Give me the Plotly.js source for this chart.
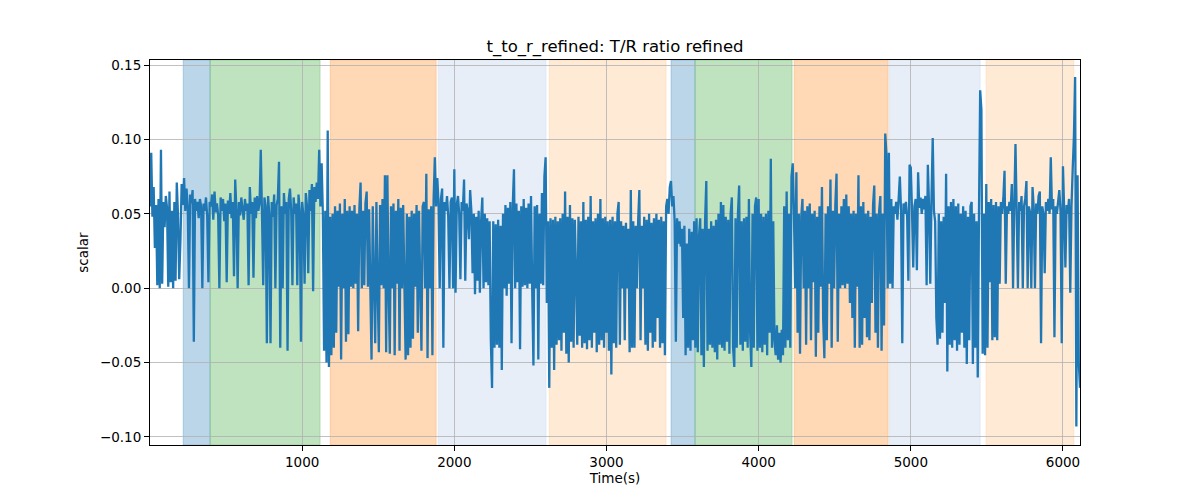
<!DOCTYPE html>
<html>
<head>
<meta charset="utf-8">
<script src="https://cdn.plot.ly/plotly-3.0.1.min.js"></script>
<style>html,body{margin:0;padding:0;background:#fff}#chart{width:1200px;height:500px}</style>
</head>
<body>
<div id="chart"></div>
<script>
// sampling of the series (seconds)
const sampleStart = 0;
const sampleStep = 8;

// T/R ratio refined, one value every 8 s
const ratio = [
 .055,.091,.048,.068,.027,.056,.002,.06,.0,.093,.003,.058,.041,.062,.054,.001,.065,.004,.052,.0,
 .058,.005,.071,.049,.006,.032,.07,.056,.074,.052,.067,.055,.0,.063,.057,.066,-.036,.06,.052,.058,
 .047,.06,.055,.0,.057,.052,.061,.048,.004,.058,.055,.063,.046,.065,.051,.057,.049,.0,.061,.052,
 .06,.045,.057,.004,.059,.05,.064,.047,.058,.008,.073,.052,.0,.058,.049,.061,.053,.046,.06,.052,
 .057,.002,.068,.05,.058,.007,.061,.047,.062,.052,.057,.093,.05,.002,.061,.055,-.037,.062,.05,-.037,
 .058,.048,.063,.0,.056,.06,.085,-.04,.055,.0,.064,.05,.058,-.042,.06,.067,.052,.002,.061,.05,
 .057,.002,.063,.052,-.036,.058,.049,.003,.064,.055,.01,.066,.052,.07,-.002,.068,.058,.071,.06,.093,
 .055,.084,.05,-.042,.052,-.05,.106,-.053,.048,-.045,.05,-.04,.055,-.03,.052,.001,.057,-.048,.05,.0,
 .06,-.036,.052,-.031,.055,.001,.052,.0,.056,.003,.05,-.029,.054,.071,.0,.052,.002,.057,.065,.001,
 .053,.0,-.048,.055,.004,-.037,.058,.0,-.043,.056,.002,.06,.0,.076,-.043,.076,.001,-.044,.055,.0,
 .057,-.045,.052,.003,.06,-.042,.054,.0,.056,.002,-.048,.05,-.045,.048,-.04,.052,-.034,.05,.001,.056,
 -.03,.052,.002,-.042,.055,.058,.0,.077,-.047,.053,.0,.055,-.045,.06,.088,.055,.074,.058,.0,.06,
 .067,-.04,.058,.052,.062,.048,.0,.058,.061,.0,.08,-.003,.056,.062,.05,.006,.058,.052,.073,.005,
 .057,.052,.033,.066,.052,.01,.05,-.004,.048,.005,.052,-.003,.045,.061,.0,.05,.004,.047,.002,.045,
 -.035,-.067,.045,-.04,.043,-.038,.046,-.04,.042,-.055,.05,.0,.056,-.005,.054,.003,.058,-.037,.055,.08,
 .0,.057,.004,.052,-.041,.055,.001,.06,.002,.054,.0,.057,.003,.062,-.002,-.052,.055,.0,.056,-.048,
 .05,.003,.064,.002,.075,.088,-.01,.045,-.067,.047,-.04,.046,-.055,.048,-.038,.045,-.035,.047,-.042,.05,
 -.03,.065,-.044,.048,-.05,.056,-.036,.047,-.04,.046,.01,-.038,.048,-.032,.045,-.04,.058,-.037,.046,-.041,
 .048,-.035,.062,-.04,.045,-.03,.047,-.043,.05,-.038,.06,-.035,.047,-.04,.048,-.03,.045,-.042,.046,-.058,
 .048,-.037,.045,-.04,.05,.058,-.038,.045,.0,.042,-.035,.044,.0,.04,-.043,.066,-.04,.045,-.04,.042,
 .0,.045,.066,-.035,.042,.0,.048,-.038,.046,-.042,.05,-.03,.044,-.04,.047,-.036,.05,-.02,.046,-.04,
 .048,-.037,.045,-.045,.055,.06,.05,.068,.072,.055,.062,.045,-.036,.047,.03,.045,.028,.04,-.02,.042,
 -.045,.03,-.04,.04,-.042,.038,-.035,.045,-.04,.047,-.043,.035,.047,-.045,.04,-.053,.045,.072,-.042,.04,
 -.038,.045,-.04,.042,-.043,.046,-.048,.05,-.038,.058,-.04,.056,-.042,.048,-.036,.046,-.044,.05,.061,-.04,
 -.053,.047,-.04,.05,.069,-.038,.045,-.042,.047,-.036,.048,-.04,.06,-.03,-.053,.05,-.04,.055,.061,-.042,
 .06,-.04,.05,-.043,.048,-.038,.05,-.045,.052,-.03,.087,-.04,.045,-.035,-.045,-.025,-.048,-.03,-.05,-.028,
 -.045,.055,-.04,.065,-.035,.05,-.04,.075,.084,.05,.0,.078,-.03,.05,-.044,.048,.06,.0,.052,-.038,
 .055,.0,.057,-.035,.05,.004,.052,-.046,.048,-.03,.055,.001,.068,-.02,-.047,.05,-.035,.055,.003,.073,
 -.04,.052,.0,.056,.077,-.036,.05,.0,.055,.002,.06,.0,.063,.003,.055,-.01,.05,-.02,.052,-.04,
 .05,.001,.076,-.04,.055,-.038,.058,-.02,.05,-.033,.052,-.035,.048,-.01,.056,.069,-.03,.05,-.04,.052,
 .062,-.042,.05,-.025,.104,.09,.0,.091,.003,.06,.0,.055,.05,.058,.046,.06,.075,.052,-.037,.057,
 .05,.058,.048,.005,.083,.081,.052,.014,.055,.06,.012,.078,.054,.061,.05,.06,.053,.062,.002,.083,
 .055,.003,.06,.101,.052,.045,-.02,-.038,.05,-.034,.045,-.03,.048,-.01,.077,-.056,.055,-.038,.058,-.04,
 .06,-.035,.055,-.042,.057,-.038,.05,-.03,.055,-.04,.052,-.051,.048,-.035,.055,.058,-.051,.05,-.04,.045,
 -.06,.05,.133,.12,-.044,.05,-.045,.07,-.04,.058,.004,.06,-.035,.056,-.033,.058,-.035,.055,.003,.058,
 .05,.06,.079,.003,.055,.05,.058,.052,.07,.0,.056,.097,.05,.0,.058,.052,.062,.0,.055,.06,
 .072,.0,.055,.051,.0,.068,.054,.0,.057,.05,.062,.065,-.037,.055,.05,.01,.058,.052,.06,.05,
 .088,.053,.06,-.033,.055,.05,.058,.066,.052,-.037,.082,.052,.014,.056,.05,.06,-.003,.055,.08,.102,
 .142,-.093,.076,-.05,-.067
];
const time = ratio.map((_, i) => sampleStart + i * sampleStep);

// shaded phases
const phaseStart = [218, 395, 1184, 1893, 2623, 3424, 3582, 4233, 4858, 5494];
const phaseEnd   = [395, 1118, 1881, 2603, 3392, 3582, 4220, 4851, 5456, 6072];
const phaseColor = ['#1f77b4', '#2ca02c', '#ff7f0e', '#aec7e8', '#ffbb78',
                    '#1f77b4', '#2ca02c', '#ff7f0e', '#aec7e8', '#ffbb78'];

const xTicks = [1000, 2000, 3000, 4000, 5000, 6000];
const yTicks = [-0.10, -0.05, 0.00, 0.05, 0.10, 0.15];

function rgba(hex, a) {
  const n = parseInt(hex.slice(1), 16);
  return `rgba(${(n >> 16) & 255},${(n >> 8) & 255},${n & 255},${a})`;
}

const shapes = phaseStart.map((s, i) => ({
  type: 'rect', xref: 'x', yref: 'paper', x0: s, x1: phaseEnd[i], y0: 0, y1: 1,
  fillcolor: rgba(phaseColor[i], 0.3), line: {color: rgba(phaseColor[i], 0.3), width: 0.8},
  layer: 'between'
}));

const font = 'DejaVu Sans, sans-serif';
const trace = {
  x: time, y: ratio, type: 'scatter', mode: 'lines',
  line: {color: '#1f77b4', width: 2.3, simplify: false},
  hoverinfo: 'skip'
};

const axisCommon = {
  showline: true, mirror: true, linecolor: '#000', linewidth: 1,
  ticks: 'outside', ticklen: 5, tickwidth: 1, tickcolor: '#000',
  showgrid: true, gridcolor: '#b0b0b0', gridwidth: 0.8,
  zeroline: false, tickfont: {family: font, size: 13.5, color: '#000'},
  automargin: false
};

const layout = {
  width: 1200, height: 500,
  margin: {l: 150, r: 120, t: 60, b: 55},
  paper_bgcolor: '#fff', plot_bgcolor: '#fff',
  showlegend: false,
  title: {text: 't_to_r_refined: T/R ratio refined', font: {family: font, size: 16.5, color: '#000'},
          x: 0.5, xref: 'paper', xanchor: 'center', y: 1, yref: 'paper', yanchor: 'bottom', pad: {b: 8}},
  xaxis: Object.assign({}, axisCommon, {
    range: [0, 6112], tickvals: xTicks, ticktext: xTicks.map(String),
    title: {text: 'Time(s)', font: {family: font, size: 13.5, color: '#000'}, standoff: 4}
  }),
  yaxis: Object.assign({}, axisCommon, {
    range: [-0.1054, 0.1534], tickvals: yTicks, ticktext: yTicks.map(v => v.toFixed(2).replace('-', '\u2212')),
    title: {text: 'scalar', font: {family: font, size: 13.5, color: '#000'}, standoff: 8}
  }),
  shapes: shapes
};

Plotly.newPlot('chart', [trace], layout, {displayModeBar: false, staticPlot: true});
</script>
</body>
</html>
